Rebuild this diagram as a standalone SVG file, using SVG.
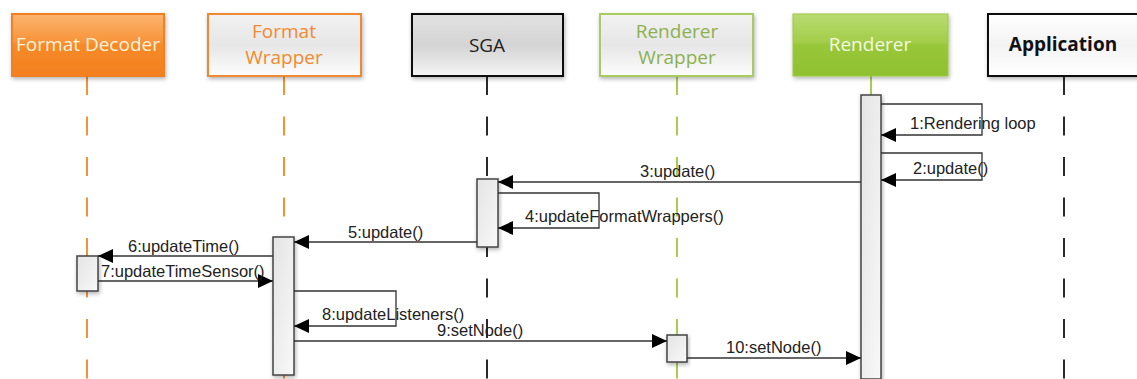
<svg xmlns="http://www.w3.org/2000/svg" width="1137" height="379" viewBox="0 0 1137 379">
<defs>
<linearGradient id="gOrange" x1="0" y1="0" x2="0" y2="1"><stop offset="0" stop-color="#FBB46E"/><stop offset="0.45" stop-color="#F8943A"/><stop offset="0.5" stop-color="#F68A2A"/><stop offset="1" stop-color="#F3801E"/></linearGradient>
<linearGradient id="gGreen" x1="0" y1="0" x2="0" y2="1"><stop offset="0" stop-color="#B9DB72"/><stop offset="0.45" stop-color="#A3CE4A"/><stop offset="0.5" stop-color="#98C73A"/><stop offset="1" stop-color="#8FC12F"/></linearGradient>
<linearGradient id="gLight" x1="0" y1="0" x2="0" y2="1"><stop offset="0" stop-color="#F2F2F2"/><stop offset="0.5" stop-color="#E6E6E6"/><stop offset="1" stop-color="#FDFDFD"/></linearGradient>
<linearGradient id="gGray" x1="0" y1="0" x2="0" y2="1"><stop offset="0" stop-color="#E2E2E2"/><stop offset="0.5" stop-color="#D4D4D4"/><stop offset="1" stop-color="#F4F4F4"/></linearGradient>
<linearGradient id="gWhite" x1="0" y1="0" x2="0" y2="1"><stop offset="0" stop-color="#FFFFFF"/><stop offset="0.5" stop-color="#F3F3F3"/><stop offset="1" stop-color="#FFFFFF"/></linearGradient>
<linearGradient id="gAct" x1="0" y1="0" x2="1" y2="1"><stop offset="0" stop-color="#E4E4E4"/><stop offset="1" stop-color="#F8F8F8"/></linearGradient>
<filter id="sh" x="-20%" y="-20%" width="140%" height="140%"><feDropShadow dx="1" dy="2" stdDeviation="2" flood-color="#000" flood-opacity="0.3"/></filter>
<marker id="arr" viewBox="0 0 15 14" refX="15" refY="7" markerWidth="15" markerHeight="14" markerUnits="userSpaceOnUse" orient="auto"><path d="M0,0 L15,7 L0,14 Z" fill="#000"/></marker>
<style>
.hdr{font-family:"Open Sans","Liberation Sans",sans-serif;font-size:19px;text-anchor:middle}
.msg{font-family:"Liberation Sans",Arial,sans-serif;font-size:16.5px;fill:#222}
.ll{stroke-width:2;stroke-dasharray:19 21.5;fill:none}
.act{fill:url(#gAct);stroke:#444;stroke-width:1.5;filter:url(#sh)}
.m{stroke:#333;stroke-width:1.3;fill:none;marker-end:url(#arr)}
</style>
</defs>
<rect width="1137" height="379" fill="#fff"/>

<g id="lifelines">
<line class="ll" x1="87" y1="76" x2="87" y2="379" stroke="#F39237"/>
<line class="ll" x1="284" y1="76" x2="284" y2="379" stroke="#F39237"/>
<line class="ll" x1="487" y1="76" x2="487" y2="379" stroke="#2A2A2A"/>
<line class="ll" x1="677" y1="76" x2="677" y2="379" stroke="#A8CC50"/>
<line x1="871" y1="76" x2="871" y2="96" stroke="#A8CC50" stroke-width="2"/>
<line class="ll" x1="1064" y1="76" x2="1064" y2="379" stroke="#2A2A2A"/>
</g>

<g id="formatDecoder">
<rect x="12" y="14" width="152" height="62" fill="url(#gOrange)" stroke="#F08020" stroke-width="2" filter="url(#sh)"/>
<text class="hdr" x="88" y="51" fill="#FFF3DC">Format Decoder</text>
<rect class="act" x="77" y="256" width="21" height="35"/>
</g>

<g id="formatWrapper">
<rect x="208" y="14" width="153" height="62" fill="url(#gLight)" stroke="#F08A30" stroke-width="2" filter="url(#sh)"/>
<text class="hdr" x="284" y="38" fill="#F08A30">Format</text>
<text class="hdr" x="284" y="64" fill="#F08A30">Wrapper</text>
<rect class="act" x="273" y="237" width="21" height="138"/>
</g>

<g id="sga">
<rect x="412" y="14" width="151" height="62" fill="url(#gGray)" stroke="#111" stroke-width="2" filter="url(#sh)"/>
<text class="hdr" x="487" y="52" fill="#222">SGA</text>
<rect class="act" x="477" y="179" width="21" height="68"/>
</g>

<g id="rendererWrapper">
<rect x="600" y="14" width="153" height="62" fill="url(#gLight)" stroke="#A8CC60" stroke-width="2" filter="url(#sh)"/>
<text class="hdr" x="677" y="38" fill="#8DB050">Renderer</text>
<text class="hdr" x="677" y="64" fill="#8DB050">Wrapper</text>
<rect class="act" x="667" y="335" width="20" height="27"/>
</g>

<g id="renderer">
<rect x="793" y="14" width="155" height="62" fill="url(#gGreen)" stroke="#9CC840" stroke-width="1" filter="url(#sh)"/>
<text class="hdr" x="870" y="51" fill="#F4F8E0">Renderer</text>
<rect class="act" x="861" y="95" width="20" height="284"/>
</g>

<g id="application">
<rect x="988" y="14" width="160" height="62" fill="url(#gWhite)" stroke="#111" stroke-width="2" filter="url(#sh)"/>
<text class="hdr" x="1063" y="51" fill="#111" font-weight="bold">Application</text>
</g>

<g id="connectors">
<polyline class="m" points="881,104 982,104 982,135 881,135"/>
<text class="msg" x="910" y="129">1:Rendering loop</text>
<polyline class="m" points="881,153 982,153 982,180 881,180"/>
<text class="msg" x="913" y="174">2:update()</text>
<line class="m" x1="861" y1="182" x2="498" y2="182"/>
<text class="msg" x="640" y="177">3:update()</text>
<polyline class="m" points="498,193 599,193 599,228 498,228"/>
<text class="msg" x="525" y="222">4:updateFormatWrappers()</text>
<line class="m" x1="477" y1="242" x2="294" y2="242"/>
<text class="msg" x="348" y="238">5:update()</text>
<line class="m" x1="273" y1="256" x2="98" y2="256"/>
<text class="msg" x="128" y="252">6:updateTime()</text>
<line class="m" x1="98" y1="281" x2="273" y2="281"/>
<text class="msg" x="101" y="277">7:updateTimeSensor()</text>
<polyline class="m" points="294,291 396,291 396,326 294,326"/>
<text class="msg" x="322" y="320">8:updateListeners()</text>
<line class="m" x1="294" y1="341" x2="667" y2="341"/>
<text class="msg" x="437" y="336">9:setNode()</text>
<line class="m" x1="687" y1="358" x2="861" y2="358"/>
<text class="msg" x="726" y="353">10:setNode()</text>
</g>
</svg>
